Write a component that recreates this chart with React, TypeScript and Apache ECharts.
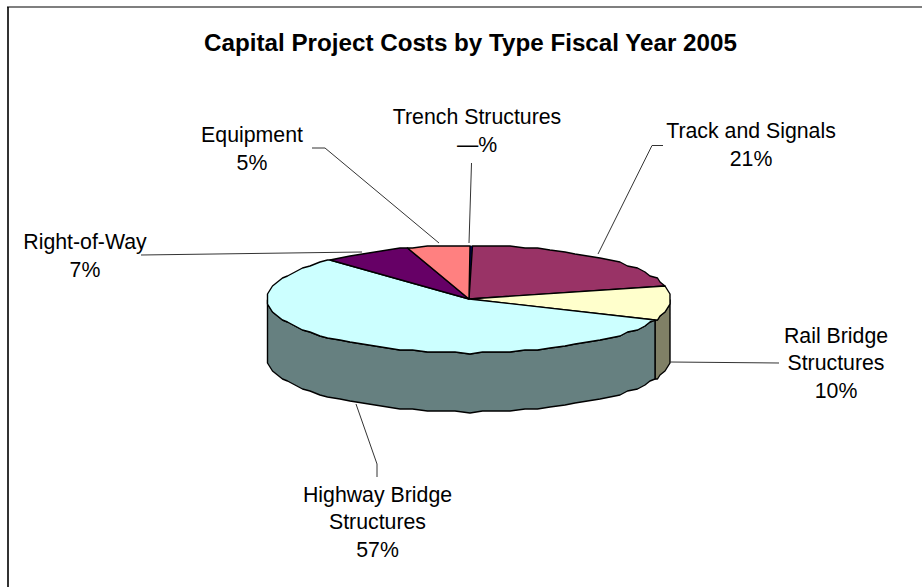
import React, { useEffect, useRef } from "react";
import * as echarts from "echarts";

// Fiscal-year cost shares, clockwise from twelve o'clock.
const categories = [
  "Trench Structures",
  "Track and Signals",
  "Rail Bridge\nStructures",
  "Highway Bridge\nStructures",
  "Right-of-Way",
  "Equipment",
];
const costShares = [0.3, 21, 10, 57, 7, 5];
const shareLabels = ["—%", "21%", "10%", "57%", "7%", "5%"];
const topColors = ["#000080", "#993366", "#FFFFCC", "#CCFFFF", "#660066", "#FF8080"];
const sideColors = ["#000040", "#4D1A33", "#808066", "#668080", "#330033", "#804040"];

// Layout of the tilted disc and its callouts, in pixels.
const DISC = { cx: 469, cy: 299, rx: 202, ry: 54, depth: 59 };
const STEP_DEG = 4;
const labelCenters = [
  [477, 131],
  [751, 145],
  [836, 363],
  [377.5, 522],
  [85, 256],
  [252, 149],
];
const leaders = [
  [[471.5, 163], [469, 243]],
  [[663, 145.5], [652, 145.5], [598, 254]],
  [[670, 362], [779, 363]],
  [[356, 404], [377, 464], [377, 477]],
  [[141, 255], [362, 252]],
  [[312, 148], [325, 148], [439, 243]],
];

const total = costShares.reduce((a, b) => a + b, 0);
const sliceRange = (i: number): [number, number] => {
  const before = costShares.slice(0, i).reduce((a, b) => a + b, 0);
  return [(before / total) * 360, ((before + costShares[i]) / total) * 360];
};

// The rim is a coarse polyline on a low-resolution grid, which gives it its uneven edge.
const snap = (v: number, grid: number) => Math.round(v / grid) * grid;
const rimPoint = (deg: number, drop = 0): number[] => {
  const r = (deg * Math.PI) / 180;
  return [
    snap(DISC.cx + DISC.rx * Math.sin(r), 2.5),
    snap(DISC.cy - DISC.ry * Math.cos(r), 2) + drop,
  ];
};
const rimArc = (from: number, to: number, drop = 0): number[][] => {
  const pts: number[][] = [rimPoint(from, drop)];
  let a = Math.ceil(from / STEP_DEG + 1e-6) * STEP_DEG;
  for (; a < to; a += STEP_DEG) pts.push(rimPoint(a, drop));
  pts.push(rimPoint(to, drop));
  return pts;
};

const outline = { stroke: "#000", lineWidth: 1.4, lineJoin: "round" };

const renderSide = (params: any) => {
  const [a, b] = sliceRange(params.dataIndex);
  const from = Math.max(a, 90);
  const to = Math.min(b, 270);
  if (from >= to) return { type: "group", children: [] };
  const points = [...rimArc(from, to), ...rimArc(from, to, DISC.depth).reverse()];
  return {
    type: "polygon",
    shape: { points },
    style: { fill: sideColors[params.dataIndex], ...outline },
  };
};

const renderTop = (params: any) => {
  const i = params.dataIndex;
  const [a, b] = sliceRange(i);
  const points = [[DISC.cx, DISC.cy], ...rimArc(a, b)];
  // The sliver is too thin to keep its colour under a full-width outline.
  const stroke = costShares[i] < 1 ? { ...outline, lineWidth: 0.6 } : outline;
  return {
    type: "polygon",
    shape: { points },
    style: { fill: topColors[i], ...stroke },
  };
};

const renderCallout = (params: any) => {
  const i = params.dataIndex;
  return {
    type: "group",
    children: [
      {
        type: "polyline",
        shape: { points: leaders[i] },
        style: { fill: "none", stroke: "#333", lineWidth: 1 },
      },
      {
        type: "text",
        x: labelCenters[i][0],
        y: labelCenters[i][1],
        style: {
          text: `${categories[i]}\n${shareLabels[i]}`,
          font: '21.3px "Liberation Sans", Arial, sans-serif',
          lineHeight: 27.5,
          fill: "#000",
          align: "center",
          verticalAlign: "middle",
        },
      },
    ],
  };
};

export default function App() {
  const ref = useRef<HTMLDivElement>(null);
  useEffect(() => {
    const chart = echarts.init(ref.current!, undefined, { renderer: "svg" });
    const seriesData = costShares.map((v, i) => ({ name: categories[i], value: [i, v] }));
    chart.setOption({
      animation: false,
      backgroundColor: "#fff",
      title: {
        text: "Capital Project Costs by Type Fiscal Year 2005",
        left: 465.5,
        top: 25,
        textAlign: "center",
        textStyle: {
          color: "#000",
          fontFamily: '"Liberation Sans", Arial, sans-serif',
          fontWeight: "bold",
          fontSize: 24.2,
        },
      },
      graphic: [
        {
          type: "line",
          shape: { x1: 8, y1: 7, x2: 8, y2: 587 },
          style: { stroke: "#333", lineWidth: 2 },
        },
        {
          type: "line",
          shape: { x1: 7, y1: 7, x2: 922, y2: 7 },
          style: { stroke: "#000", lineWidth: 1.2 },
        },
      ],
      series: [
        { type: "custom", coordinateSystem: "none", silent: true, z: 1, data: seriesData, renderItem: renderSide },
        { type: "custom", coordinateSystem: "none", silent: true, z: 2, data: seriesData, renderItem: renderTop },
        { type: "custom", coordinateSystem: "none", silent: true, z: 3, data: seriesData, renderItem: renderCallout },
      ],
    });
    return () => chart.dispose();
  }, []);
  return (
    <div
      ref={ref}
      style={{ position: "fixed", left: 0, top: 0, width: 922, height: 587 }}
    />
  );
}
